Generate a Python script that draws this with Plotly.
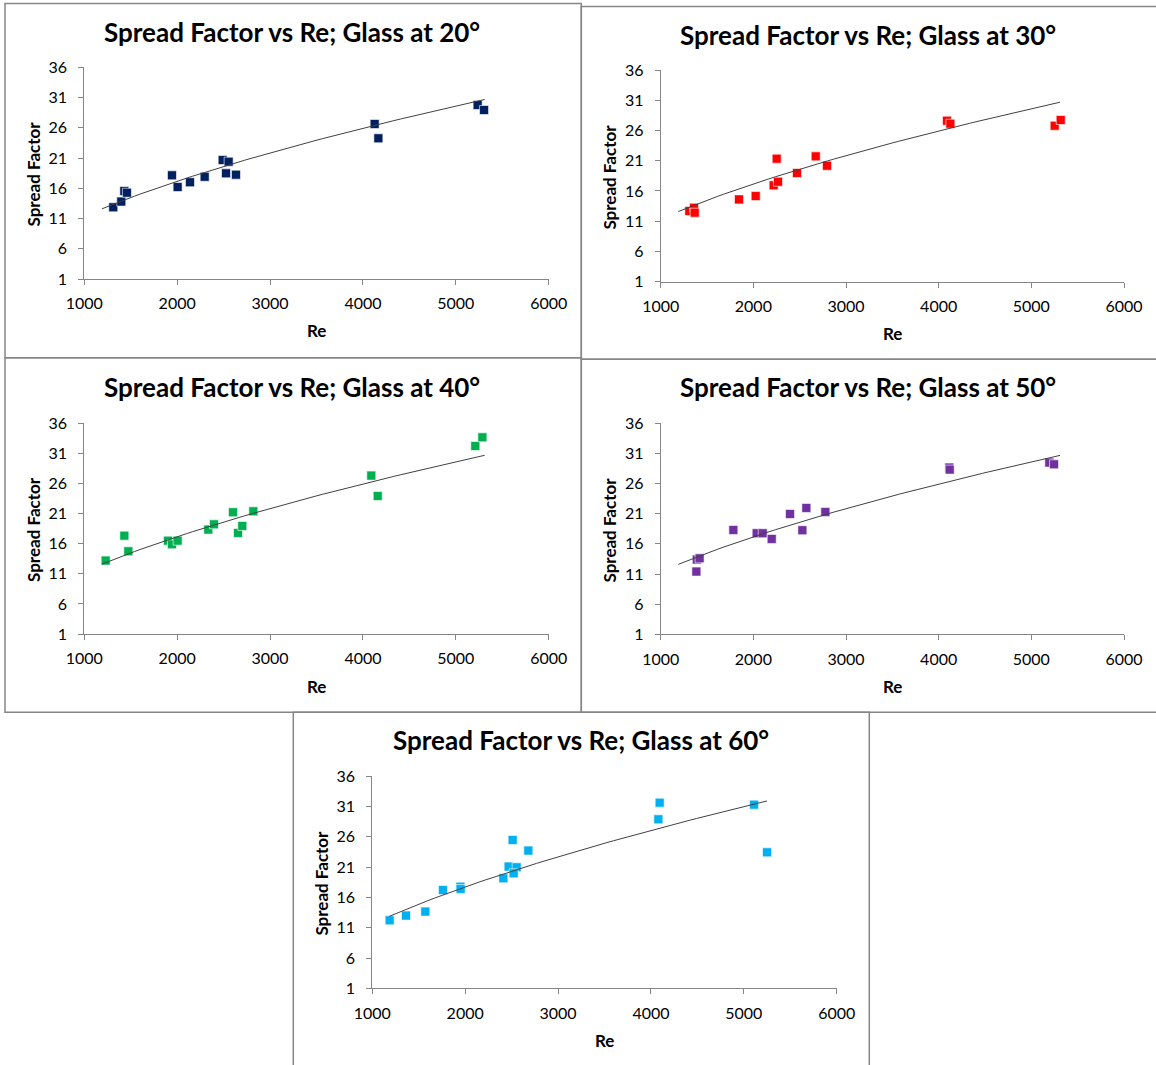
import numpy as np
import plotly.graph_objects as go

W, H = 1156, 1065

# ---------------- data ----------------
angles = ["20", "30", "40", "50", "60"]
colors = ["#002060", "#FF0000", "#00B050", "#7030A0", "#00B0F0"]

re_20 = [1312, 1398, 1431, 1459, 1944, 2005, 2138, 2296, 2490, 2554, 2526, 2633, 4126, 4166, 5235, 5304]
sf_20 = [12.85, 13.8, 15.55, 15.27, 18.14, 16.2, 17.0, 17.9, 20.67, 20.4, 18.47, 18.25, 26.63, 24.26, 29.77, 28.94]

re_30 = [1309, 1360, 1367, 1845, 2025, 2219, 2266, 2252, 2471, 2673, 2795, 4090, 4126, 5252, 5317]
sf_30 = [12.68, 13.23, 12.41, 14.61, 15.16, 16.93, 17.53, 21.34, 18.97, 21.72, 20.18, 27.62, 27.12, 26.79, 27.73]

re_40 = [1230, 1431, 1474, 1901, 1944, 2005, 2335, 2396, 2601, 2655, 2701, 2820, 4090, 4159, 5210, 5286]
sf_40 = [13.19, 17.34, 14.74, 16.51, 15.90, 16.51, 18.34, 19.22, 21.22, 17.78, 18.95, 21.38, 27.31, 23.93, 32.23, 33.67]

re_50 = [1385, 1390, 1420, 1784, 2036, 2101, 2198, 2396, 2529, 2572, 2777, 4115, 4119, 5194, 5245]
sf_50 = [11.40, 13.4, 13.6, 18.31, 17.76, 17.76, 16.82, 20.96, 18.26, 21.96, 21.30, 28.65, 28.32, 29.48, 29.20]

re_60 = [1187, 1363, 1571, 1761, 1948, 1951, 2411, 2468, 2554, 2522, 2511, 2680, 4080, 4094, 5110, 5250]
sf_60 = [12.22, 13.0, 13.66, 17.23, 17.78, 17.40, 19.16, 21.09, 20.98, 19.98, 25.49, 23.73, 28.9, 31.65, 31.32, 23.45]

# power-law trendline parameters (y = a * Re^b) and Re span
trend_a = [0.1867, 0.1867, 0.1867, 0.1867, 0.1728]
trend_b = [0.5948, 0.5948, 0.5948, 0.5948, 0.6093]
trend_x0 = [1190, 1190, 1190, 1190, 1183]
trend_x1 = [5310, 5310, 5310, 5310, 5250]

x_ticks = [1000, 2000, 3000, 4000, 5000, 6000]
y_ticks = [1, 6, 11, 16, 21, 26, 31, 36]

series = [(re_20, sf_20), (re_30, sf_30), (re_40, sf_40), (re_50, sf_50), (re_60, sf_60)]

# ---------------- layout (pixel positions) ----------------
plot_px = [
    (84.3, 548.7, 67.3, 279.0),
    (660.7, 1124.0, 70.0, 281.7),
    (84.3, 548.7, 423.3, 634.0),
    (660.7, 1124.0, 423.3, 634.3),
    (372.3, 836.7, 776.3, 988.3),
]
box_px = [
    (5, 581.3, 3.5, 357.7),
    (581.3, 1160, 6.5, 359.3),
    (5, 581.3, 357.7, 712.3),
    (581.3, 1160, 359.3, 712.3),
    (293.3, 869.3, 712.3, 1070),
]
title_y = [32, 35, 387, 387, 740]
title_x = [292, 868, 292, 868, 581]

FONT = "Lato"
fig = go.Figure()
annotations = []
shapes = []

def px_x(v):
    return v / W

def px_y(v):
    return 1 - v / H

for i in range(5):
    n = "" if i == 0 else str(i + 1)
    xa, ya = "x" + n, "y" + n
    re, sf = series[i]
    fig.add_trace(go.Scatter(
        x=re, y=sf, mode="markers", xaxis=xa, yaxis=ya,
        marker=dict(symbol="square", size=9, color=colors[i],
                    line=dict(width=1, color="rgba(255,255,255,0.6)")),
        showlegend=False, hoverinfo="x+y"))
    tx = np.linspace(trend_x0[i], trend_x1[i], 60)
    ty = trend_a[i] * tx ** trend_b[i]
    fig.add_trace(go.Scatter(
        x=tx, y=ty, mode="lines", xaxis=xa, yaxis=ya,
        line=dict(color="#404040", width=1), showlegend=False, hoverinfo="skip"))

    l, r, t, b = plot_px[i]
    axis_common = dict(showgrid=False, zeroline=False, showline=True, automargin=False,
                       linecolor="#868686", linewidth=1, ticks="outside",
                       tickcolor="#868686", ticklen=5, tickwidth=1,
                       tickfont=dict(family=FONT, size=16, color="#000000"),
                       fixedrange=True)
    fig.update_layout(**{
        "xaxis" + n: dict(domain=[px_x(l), px_x(r)], range=[1000, 6000],
                          tickvals=x_ticks, anchor=ya, ticklabelstandoff=5, **axis_common),
        "yaxis" + n: dict(domain=[px_y(b), px_y(t)], range=[1, 36],
                          tickvals=y_ticks, anchor=xa, ticklabelstandoff=8, **axis_common),
    })
    bl, br, bt, bb = box_px[i]
    annotations.append(dict(
        text="<b>Spread Factor vs Re; Glass at %s°</b>" % angles[i],
        x=px_x(title_x[i]), y=px_y(title_y[i]), xref="paper", yref="paper",
        showarrow=False, xanchor="center", yanchor="middle",
        font=dict(family=FONT, size=26, color="#000000")))
    annotations.append(dict(
        text="<b>Re</b>", x=px_x((l + r) / 2), y=px_y(b + 52), xref="paper", yref="paper",
        showarrow=False, xanchor="center", yanchor="middle",
        font=dict(family=FONT, size=17, color="#000000")))
    annotations.append(dict(
        text="<b>Spread Factor</b>", x=px_x(l - 51), y=px_y((t + b) / 2 + 1), xref="paper", yref="paper",
        showarrow=False, xanchor="center", yanchor="middle", textangle=-90,
        font=dict(family=FONT, size=17, color="#000000")))
    shapes.append(dict(type="rect", xref="paper", yref="paper",
                       x0=px_x(bl), x1=px_x(br), y0=px_y(bb), y1=px_y(bt),
                       line=dict(color="#868686", width=1.5), fillcolor="rgba(0,0,0,0)",
                       layer="below"))

fig.update_layout(width=W, height=H, margin=dict(l=0, r=0, t=0, b=0, autoexpand=False),
                  paper_bgcolor="white", plot_bgcolor="white",
                  annotations=annotations, shapes=shapes,
                  font=dict(family=FONT))

fig.write_html("out.html")
